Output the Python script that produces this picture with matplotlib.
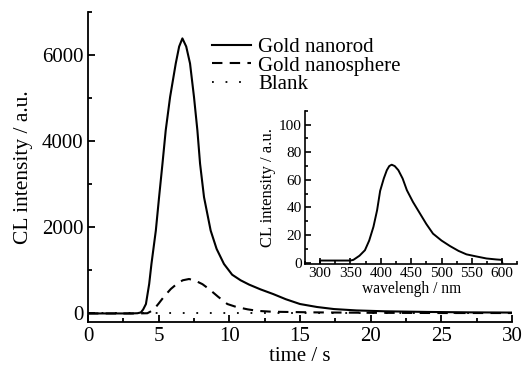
import matplotlib
matplotlib.use("Agg")
import matplotlib.pyplot as plt
from matplotlib.ticker import MultipleLocator

plt.rcParams['font.family'] = ['Liberation Serif', 'DejaVu Serif']

# main panel: CL intensity vs time
rod_t = [0, 3.0, 3.5, 3.74, 3.9, 4.1, 4.33, 4.49, 4.8, 5.03, 5.27, 5.5, 5.81, 6.21,
         6.45, 6.68, 6.95, 7.22, 7.5, 7.74, 7.93, 8.21, 8.68, 9.1, 9.62, 10.2, 10.8,
         11.4, 12.2, 13.1, 14.0, 15.0, 16.2, 17.4, 19.0, 21.0, 24.0, 27.0, 30.0]
rod_v = [0, 0, 5, 23, 90, 219, 685, 1150, 1925, 2701, 3478, 4254, 5029, 5807,
         6200, 6389, 6200, 5807, 5029, 4254, 3478, 2701, 1925, 1500, 1150, 900, 770,
         670, 560, 451, 330, 219, 150, 102, 70, 50, 35, 25, 20]

sph_t = [0, 3.5, 4.2, 4.4, 4.68, 5.0, 5.4, 5.86, 6.3, 6.7, 7.15, 7.6, 8.1, 8.56,
         9.2, 9.86, 10.5, 11.3, 12.0, 13.0, 14.0, 16.0, 20.0, 25.0, 30.0]
sph_v = [0, 0, 5, 40, 102, 230, 400, 568, 690, 770, 800, 760, 680, 568,
         390, 219, 150, 95, 60, 40, 35, 25, 15, 10, 10]

blank_t = [0, 5, 10, 15, 20, 25, 30]
blank_v = [10, 10, 10, 10, 10, 10, 10]

# inset: CL spectrum
wl = [300, 300, 330, 350, 355, 365, 374, 381, 388, 394, 399, 405, 410, 414, 418,
      423, 429, 436, 443, 453, 464, 475, 486, 500, 514, 528, 541, 557, 574, 590, 599, 600]
wl_i = [0, 1.5, 1.5, 1.5, 2, 5, 9, 16, 26, 38, 52, 61, 67, 70, 71,
        70, 67, 61, 52.5, 44, 36, 28, 21, 16, 12, 8.5, 6, 4.5, 3, 2.3, 2, 0]


def style_axes(ax, lw=1.3, major=5, minor=3, size=14):
    for s in ('top', 'right'):
        ax.spines[s].set_visible(False)
    for s in ('left', 'bottom'):
        ax.spines[s].set_linewidth(lw)
    ax.tick_params(which='both', direction='in', width=lw, labelsize=size)
    ax.tick_params(which='major', length=major)
    ax.tick_params(which='minor', length=minor)


fig = plt.figure(figsize=(5.31, 3.78), dpi=100)
ax = fig.add_axes([0.1657, 0.148, 0.7985, 0.82])

ax.plot(rod_t, rod_v, color='black', lw=1.5, label='Gold nanorod')
ax.plot(sph_t, sph_v, color='black', lw=1.5, linestyle=(0, (5, 3.5)), label='Gold nanosphere')
ax.plot(blank_t, blank_v, color='black', lw=1.3, linestyle=(0, (1, 6.5)), label='Blank')

ax.set_xlim(0, 30)
ax.set_ylim(-200, 7000)
ax.xaxis.set_major_locator(MultipleLocator(5))
ax.xaxis.set_minor_locator(MultipleLocator(2.5))
ax.yaxis.set_major_locator(MultipleLocator(2000))
ax.yaxis.set_minor_locator(MultipleLocator(1000))
style_axes(ax, size=15)
ax.set_xlabel('time / s', fontsize=15, labelpad=1)
ax.set_ylabel('CL intensity / a.u.', fontsize=15.5, labelpad=6)

ax.legend(loc='upper left', bbox_to_anchor=(0.392, 0.912), bbox_transform=fig.transFigure,
          frameon=False, fontsize=15, labelspacing=-0.05, handlelength=1.85,
          handletextpad=0.35, borderpad=0.2, borderaxespad=0)

# inset
ins = fig.add_axes([0.574, 0.3016, 0.4005, 0.405])
ins.plot(wl, wl_i, color='black', lw=1.4)
ins.set_xlim(275, 625)
ins.set_ylim(-1, 110)
ins.xaxis.set_major_locator(MultipleLocator(50))
ins.xaxis.set_minor_locator(MultipleLocator(25))
ins.yaxis.set_major_locator(MultipleLocator(20))
ins.yaxis.set_minor_locator(MultipleLocator(10))
style_axes(ins, lw=1.2, major=4, minor=2.5, size=11)
ins.tick_params(axis='both', pad=2)
ins.set_xlabel('wavelengh / nm', fontsize=11.2, labelpad=1)
ins.set_ylabel('CL intensity / a.u.', fontsize=12, labelpad=2)

fig.savefig('out.png', dpi=100)
